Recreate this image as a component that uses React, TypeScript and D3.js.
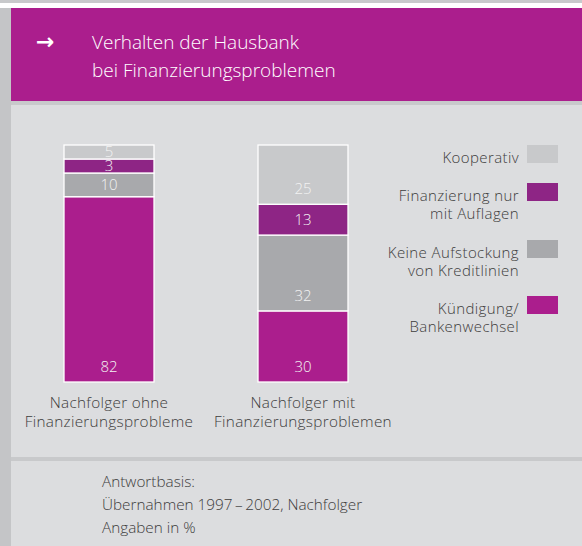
import React from "react";
import * as d3 from "d3";

const categories = ["Nachfolger ohne|Finanzierungsprobleme", "Nachfolger mit|Finanzierungsproblemen"];
const seriesKeys = ["kuendigung", "aufstockung", "auflagen", "kooperativ"];
const seriesLabels = [
  "Kündigung/|Bankenwechsel",
  "Keine Aufstockung|von Kreditlinien",
  "Finanzierung nur|mit Auflagen",
  "Kooperativ",
];
const kuendigung = [82, 30];
const aufstockung = [10, 32];
const auflagen = [3, 13];
const kooperativ = [5, 25];
const titleLines = ["Verhalten der Hausbank", "bei Finanzierungsproblemen"];
const noteLines = ["Antwortbasis:", "Übernahmen 1997\u2009–\u20092002, Nachfolger", "Angaben in %"];

const colors: Record<string, string> = {
  kuendigung: "#ab1e8d",
  aufstockung: "#a8a9ac",
  auflagen: "#8e2585",
  kooperativ: "#c8c9cb",
};

const FONT = "'Open Sans', 'Noto Sans', sans-serif";
const W = 582;
const H = 546;

export default function App() {
  const rows = categories.map((c, i) => ({
    cat: c,
    kuendigung: kuendigung[i],
    aufstockung: aufstockung[i],
    auflagen: auflagen[i],
    kooperativ: kooperativ[i],
  }));
  const stacked = d3.stack<any>().keys(seriesKeys)(rows);

  const x = d3.scalePoint<string>().domain(categories).range([109, 303]);
  const y = d3.scaleLinear().domain([0, 100]).range([382, 145]);
  const barW = 90;
  const minH = 14;

  const segs: any[] = [];
  categories.forEach((c, ci) => {
    const hs = seriesKeys.map((k, si) => {
      const d = stacked[si][ci];
      return Math.max(y(d[0]) - y(d[1]), minH);
    });
    const total = y(0) - y(100);
    const excess = hs.reduce((a, b) => a + b, 0) - total;
    const maxIdx = hs.indexOf(Math.max(...hs));
    hs[maxIdx] -= excess;
    let bottom = y(0);
    seriesKeys.forEach((k, si) => {
      const h = hs[si];
      segs.push({ c, k, v: (rows[ci] as any)[k], y0: bottom, h });
      bottom -= h;
    });
  });

  const legendY = [305, 249, 192, 154];
  const TXT = "#3c3c3c";

  return (
    <div style={{ position: "absolute", left: 0, top: 0 }}>
      <svg width={W} height={H} style={{ display: "block" }}>
        <rect x={0} y={0} width={W} height={H} fill="#dcdddf" />
        <rect x={0} y={0} width={W} height={3} fill="#c8c9cb" />
        <rect x={0} y={3} width={W} height={5} fill="#ffffff" />
        <rect x={0} y={8} width={11} height={H - 8} fill="#c4c5c7" />
        <rect x={11} y={8} width={W - 11} height={93} fill="#ab1e8d" />
        <rect x={11} y={101} width={W - 11} height={4} fill="#c8c9cb" />
        <rect x={11} y={457} width={W - 11} height={4} fill="#c8c9cb" />

        <text x={36} y={49} fill="#ffffff" fontFamily="'DejaVu Sans', sans-serif" fontSize={22} fontWeight={700}>
          →
        </text>
        {titleLines.map((t, i) => (
          <text key={i} x={92} y={49 + i * 28} fill="#ffffff" fontFamily={FONT} fontSize={19} fontWeight={300}>
            {t}
          </text>
        ))}

        {segs.map((s, i) => {
          const cx = x(s.c)!;
          const top = s.y0 - s.h;
          const baseline = s.y0 - Math.max(Math.min(10, (s.h - 10) / 2), 0.5);
          return (
            <g key={i}>
              <rect x={cx - barW / 2} y={top} width={barW} height={s.h} fill={colors[s.k]} stroke="#ffffff" strokeWidth={1.3} />
              <text x={cx} y={baseline} textAnchor="middle" fill="#f2f2f2" fontFamily={FONT} fontSize={15} fontWeight={300}>
                {s.v}
              </text>
            </g>
          );
        })}

        {categories.map((c) =>
          c.split("|").map((line, li) => (
            <text key={c + li} x={x(c)!} y={408 + li * 19} textAnchor="middle" fill={TXT} fontFamily={FONT} fontSize={15.3} fontWeight={300} letterSpacing={0.3}>
              {line}
            </text>
          ))
        )}

        {seriesKeys.map((k, si) => {
          const lines = seriesLabels[si].split("|");
          const sy = legendY[si];
          return (
            <g key={k}>
              <rect x={527} y={sy - 9} width={31} height={18} fill={colors[k]} />
              {lines.map((line, li) => (
                <text key={li} x={519} y={sy + 9 + li * 18} textAnchor="end" fill={TXT} fontFamily={FONT} fontSize={15} fontWeight={300} letterSpacing={0.4}>
                  {line}
                </text>
              ))}
            </g>
          );
        })}

        {noteLines.map((t, i) => (
          <text key={i} x={102} y={487 + i * 23} fill={TXT} fontFamily={FONT} fontSize={15.3} fontWeight={300}>
            {t}
          </text>
        ))}
      </svg>
    </div>
  );
}
